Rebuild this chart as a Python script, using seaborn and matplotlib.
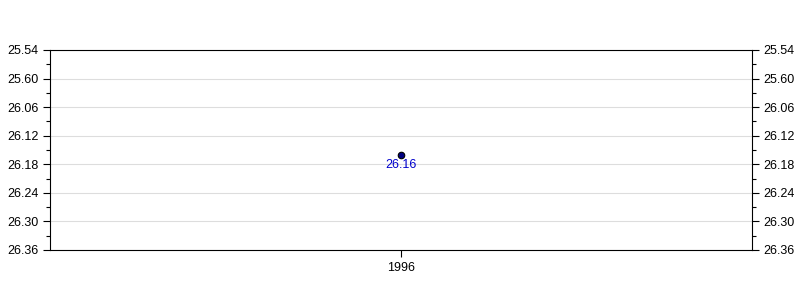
import matplotlib
matplotlib.use("Agg")
import matplotlib.pyplot as plt
import seaborn as sns
import pandas as pd
from matplotlib.ticker import FixedLocator, MultipleLocator

years = ["1996"]
seconds = [1576]          # 26 min 16 s
point_labels = ["26.16"]
ytick_values = [1554, 1560, 1566, 1572, 1578, 1584, 1590, 1596]
ytick_labels = ["25.54", "25.60", "26.06", "26.12", "26.18", "26.24", "26.30", "26.36"]

sns.set_style("white")
plt.rcParams['font.family'] = ['Liberation Sans', 'DejaVu Sans']
plt.rcParams['font.size'] = 9
plt.rcParams['text.color'] = 'black'
plt.rcParams['xtick.color'] = 'black'
plt.rcParams['ytick.color'] = 'black'

df = pd.DataFrame({"year": years, "sec": seconds})

fig = plt.figure(figsize=(8, 3), dpi=100)
ax = fig.add_axes([0.0625, 1/6, 0.8775, 2/3])
sns.scatterplot(data=df, x="year", y="sec", ax=ax, color="#000080",
                edgecolor="black", linewidth=0.8, s=22, zorder=3, legend=False)
for x, y, t in zip(range(len(years)), seconds, point_labels):
    ax.annotate(t, (x, y), xytext=(0, -7.5), textcoords="offset points",
                ha="center", va="center", color="#0000cc", fontsize=9)

ax.set_xlim(-0.5, len(years) - 0.5)
ax.set_ylim(ytick_values[-1], ytick_values[0])
ax.yaxis.set_major_locator(FixedLocator(ytick_values))
ax.set_yticklabels(ytick_labels)
ax.yaxis.set_minor_locator(MultipleLocator(3))
ax.grid(axis="y", color="#dddddd", linewidth=0.8)
ax.set_axisbelow(True)
ax.set_xlabel("")
ax.set_ylabel("")
for s in ax.spines.values():
    s.set_color("black")
    s.set_linewidth(0.8)
ax.tick_params(axis="y", which="major", length=5, width=0.8, color="black",
               labelcolor="black", left=True, right=True,
               labelleft=True, labelright=True, labelsize=9)
ax.tick_params(axis="y", which="minor", length=3, width=0.8, color="black",
               left=True, right=True)
ax.tick_params(axis="x", which="major", length=5, width=0.8, color="black",
               labelcolor="black", bottom=True, labelsize=9)

fig.savefig("out.png", dpi=100)
